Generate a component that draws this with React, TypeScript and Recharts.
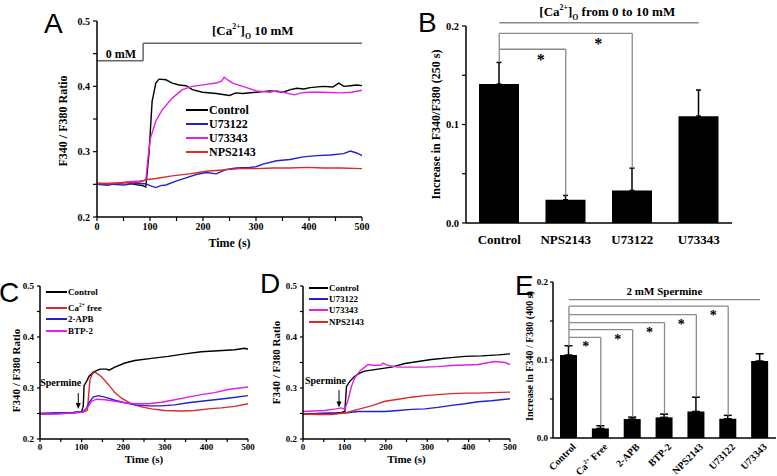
import React from 'react';
import { LineChart, Line, XAxis, YAxis, BarChart, Bar, ErrorBar, ReferenceLine, ReferenceDot, Legend, Label } from 'recharts';

const SERIF = "'Liberation Serif', 'Times New Roman', Times, serif";
const SANS = "'Liberation Sans', Arial, sans-serif";
const INK = '#000000';
const BLUE = '#2121cf';
const MAGENTA = '#e41fe4';
const RED = '#d92b2b';
const GREY = '#8a8a8a';

type Pt = [number, number];

// panel A: [Ca2+]o step 0 -> 10 mM  ([time s, F340/F380])
const aControl: Pt[] = [[0, 0.25], [20, 0.249], [40, 0.251], [55, 0.253], [70, 0.25], [86, 0.248], [92, 0.246], [98, 0.296], [104, 0.377], [111, 0.405], [117, 0.411], [130, 0.41], [142, 0.405], [155, 0.402], [168, 0.401], [180, 0.395], [199, 0.391], [225, 0.389], [250, 0.386], [262, 0.39], [275, 0.389], [301, 0.391], [326, 0.393], [340, 0.392], [351, 0.391], [365, 0.395], [377, 0.397], [390, 0.396], [402, 0.398], [427, 0.4], [445, 0.399], [456, 0.405], [466, 0.4], [478, 0.401], [490, 0.402], [500, 0.401]];
const aU73122: Pt[] = [[0, 0.25], [30, 0.25], [50, 0.249], [70, 0.251], [92, 0.251], [100, 0.248], [111, 0.245], [120, 0.248], [130, 0.249], [149, 0.255], [168, 0.26], [187, 0.265], [206, 0.268], [225, 0.266], [244, 0.273], [263, 0.275], [288, 0.276], [300, 0.277], [313, 0.281], [339, 0.286], [364, 0.288], [389, 0.292], [415, 0.294], [440, 0.295], [465, 0.297], [478, 0.301], [490, 0.298], [500, 0.294]];
const aU73343: Pt[] = [[0, 0.252], [20, 0.251], [40, 0.252], [60, 0.254], [80, 0.255], [92, 0.256], [97, 0.296], [101, 0.321], [111, 0.347], [123, 0.364], [142, 0.382], [161, 0.395], [180, 0.4], [206, 0.403], [225, 0.405], [235, 0.408], [240, 0.414], [248, 0.409], [256, 0.405], [275, 0.4], [301, 0.393], [326, 0.391], [340, 0.393], [351, 0.391], [373, 0.387], [385, 0.39], [402, 0.391], [427, 0.391], [459, 0.39], [480, 0.391], [500, 0.394]];
const aNPS2143: Pt[] = [[0, 0.251], [40, 0.252], [80, 0.253], [92, 0.257], [111, 0.259], [142, 0.263], [174, 0.266], [206, 0.27], [237, 0.272], [269, 0.274], [301, 0.274], [332, 0.275], [364, 0.275], [396, 0.276], [427, 0.275], [459, 0.275], [500, 0.274]];

// panel C: spermine, store-operated entry blockers
const cControl: Pt[] = [[0, 0.249], [40, 0.25], [80, 0.251], [92, 0.253], [100, 0.254], [104, 0.264], [106, 0.305], [112, 0.313], [118, 0.323], [128, 0.331], [144, 0.337], [160, 0.337], [166, 0.335], [180, 0.341], [204, 0.349], [228, 0.354], [268, 0.358], [308, 0.362], [348, 0.367], [388, 0.371], [428, 0.373], [468, 0.375], [492, 0.378], [500, 0.376]];
const cCaFree: Pt[] = [[0, 0.25], [40, 0.251], [80, 0.252], [108, 0.254], [114, 0.257], [120, 0.316], [126, 0.328], [132, 0.331], [148, 0.322], [164, 0.307], [180, 0.291], [196, 0.28], [220, 0.269], [244, 0.263], [268, 0.259], [300, 0.256], [340, 0.255], [372, 0.256], [404, 0.259], [436, 0.261], [468, 0.264], [500, 0.269]];
const c2APB: Pt[] = [[0, 0.25], [40, 0.251], [80, 0.252], [104, 0.254], [112, 0.261], [120, 0.274], [128, 0.282], [140, 0.285], [156, 0.282], [180, 0.276], [204, 0.271], [228, 0.267], [260, 0.265], [292, 0.265], [324, 0.267], [356, 0.271], [388, 0.274], [420, 0.277], [452, 0.28], [500, 0.285]];
const cBTP2: Pt[] = [[0, 0.249], [40, 0.249], [80, 0.251], [104, 0.253], [116, 0.264], [124, 0.274], [136, 0.278], [156, 0.277], [180, 0.274], [204, 0.271], [228, 0.269], [260, 0.269], [292, 0.272], [324, 0.277], [356, 0.282], [388, 0.287], [420, 0.291], [452, 0.297], [500, 0.302]];

// panel D: spermine, PLC / CaSR inhibitors
const dControl: Pt[] = [[0, 0.249], [40, 0.25], [80, 0.251], [93, 0.252], [101, 0.254], [105, 0.303], [113, 0.313], [125, 0.323], [137, 0.329], [149, 0.333], [181, 0.337], [214, 0.341], [246, 0.348], [278, 0.352], [310, 0.356], [351, 0.359], [391, 0.362], [431, 0.363], [472, 0.365], [500, 0.367]];
const dU73122: Pt[] = [[0, 0.249], [52, 0.25], [101, 0.251], [133, 0.254], [165, 0.254], [198, 0.254], [230, 0.256], [262, 0.258], [294, 0.259], [326, 0.262], [359, 0.266], [391, 0.269], [423, 0.273], [455, 0.275], [500, 0.279]];
const dU73343: Pt[] = [[0, 0.254], [52, 0.256], [80, 0.259], [93, 0.261], [101, 0.258], [109, 0.277], [117, 0.303], [125, 0.32], [137, 0.333], [149, 0.341], [157, 0.346], [173, 0.344], [189, 0.345], [193, 0.349], [206, 0.344], [230, 0.341], [262, 0.341], [294, 0.341], [326, 0.342], [359, 0.344], [391, 0.345], [423, 0.346], [463, 0.352], [488, 0.35], [500, 0.346]];
const dNPS2143: Pt[] = [[0, 0.249], [36, 0.248], [69, 0.248], [101, 0.251], [133, 0.258], [165, 0.265], [198, 0.274], [230, 0.278], [262, 0.282], [294, 0.285], [326, 0.287], [359, 0.289], [391, 0.29], [423, 0.29], [455, 0.291], [500, 0.292]];

const timeTicks = [0, 50, 100, 150, 200, 250, 300, 350, 400, 450, 500];
const ratioTicks = [0.2, 0.25, 0.3, 0.35, 0.4, 0.45, 0.5];
const incTicks = [0, 0.05, 0.1, 0.15, 0.2];

// panel B: increase at 250 s
const bGroups = ['Control', 'NPS2143', 'U73122', 'U73343'];
const bMeans = [0.141, 0.0236, 0.033, 0.1085];
const bSems = [0.022, 0.0044, 0.0227, 0.0265];

// panel E: increase at 400 s
const eGroups = ['Control', 'Ca2+ Free', '2-APB', 'BTP-2', 'NPS2143', 'U73122', 'U73343'];
const eMeans = [0.1064, 0.0123, 0.0243, 0.0264, 0.034, 0.0247, 0.0987];
const eSems = [0.0119, 0.0034, 0.0025, 0.0042, 0.0183, 0.0043, 0.0093];

const aSeries = [
  { name: 'Control', color: INK, pts: aControl },
  { name: 'U73122', color: BLUE, pts: aU73122 },
  { name: 'U73343', color: MAGENTA, pts: aU73343 },
  { name: 'NPS2143', color: RED, pts: aNPS2143 },
];
const cSeries = [
  { name: 'Control', color: INK, pts: cControl },
  { name: 'Ca2+ free', color: RED, pts: cCaFree },
  { name: '2-APB', color: BLUE, pts: c2APB },
  { name: 'BTP-2', color: MAGENTA, pts: cBTP2 },
];
const dSeries = [
  { name: 'Control', color: INK, pts: dControl },
  { name: 'U73122', color: BLUE, pts: dU73122 },
  { name: 'U73343', color: MAGENTA, pts: dU73343 },
  { name: 'NPS2143', color: RED, pts: dNPS2143 },
];

const toRows = (pts: Pt[]) => pts.map(([t, v]) => ({ t, v }));
const fmtTime = (v: number) => (v % 100 === 0 ? String(v) : '');
const fmtTenth = (v: number) => (Math.round(v * 100) % 10 === 0 ? v.toFixed(1) : '');

const axisLine = { stroke: INK, strokeWidth: 1.5 };
const tickLine = { stroke: INK, strokeWidth: 1.2 };
const tickFont = (size: number) => ({ fontFamily: SERIF, fontWeight: 'bold', fontSize: size, fill: INK });

// Ca2+ with superscript, optional subscript o
const caText = (sup: number, sub: boolean) => (
  <>
    {sub ? '[' : ''}Ca<tspan dy={-sup * 0.45} fontSize={sup * 0.6}>2+</tspan>
    <tspan dy={sup * 0.45}>{sub ? ']' : ''}</tspan>
    {sub ? <tspan dy={sup * 0.3} fontSize={sup * 0.6}>O</tspan> : null}
    {sub ? <tspan dy={-sup * 0.3}> </tspan> : null}
  </>
);

function yTitle(text: React.ReactNode, dx: number, size: number, dy = 0) {
  return (p: any) => {
    const vb = p.viewBox || {};
    const x = vb.x + dx;
    const y = vb.y + vb.height / 2 + dy;
    return (
      <text x={x} y={y} transform={`rotate(-90 ${x} ${y})`} textAnchor="middle" fontFamily={SERIF} fontWeight="bold" fontSize={size} fill={INK}>
        {text}
      </text>
    );
  };
}

function xTitle(text: string, dy: number, size: number) {
  return (p: any) => {
    const vb = p.viewBox || {};
    return (
      <text x={vb.x + vb.width / 2} y={vb.y + dy} textAnchor="middle" fontFamily={SERIF} fontWeight="bold" fontSize={size} fill={INK}>
        {text}
      </text>
    );
  };
}

const note = (node: React.ReactNode, size: number, dx = 0, dy = 0, anchor: 'start' | 'middle' | 'end' = 'middle', fill = INK) => (p: any) => (
  <text x={p.cx + dx} y={p.cy + dy} textAnchor={anchor} fontFamily={SERIF} fontWeight="bold" fontSize={size} fill={fill}>
    {node}
  </text>
);

const arrowHead = (p: any) => <path d={`M${p.cx - 2.5},${p.cy - 6}L${p.cx + 2.5},${p.cy - 6}L${p.cx},${p.cy}Z`} fill={INK} />;

function legendBox(items: { name: string; color: string }[], size: number, line: number, row: number, caGap = 0) {
  return () => (
    <div style={{ fontFamily: SERIF, fontWeight: 'bold', fontSize: size, color: INK, textAlign: 'left' }}>
      {items.map((it, i) => (
        <div key={it.name} style={{ display: 'flex', alignItems: 'center', height: row, marginTop: i === 1 ? caGap : 0, whiteSpace: 'nowrap' }}>
          <span style={{ display: 'inline-block', width: line, height: 2, background: it.color, marginRight: 1 }} />
          {it.name === 'Ca2+ free' ? (
            <span>
              Ca<sup style={{ fontSize: size * 0.6 }}>2+</sup> free
            </span>
          ) : (
            <span>{it.name}</span>
          )}
        </div>
      ))}
    </div>
  );
}

function ETick(p: any) {
  const { x, y, payload } = p;
  const v = payload.value as string;
  return (
    <g transform={`translate(${x + 5},${y + 2}) rotate(-45)`}>
      <text textAnchor="end" dy="0.35em" fontFamily={SERIF} fontWeight="bold" fontSize={10} fill={INK}>
        {v === 'Ca2+ Free' ? (
          <>
            Ca<tspan dy={-4} fontSize={6}>2+</tspan>
            <tspan dy={4}> Free</tspan>
          </>
        ) : (
          v
        )}
      </text>
    </g>
  );
}

function TraceChart(props: {
  series: { name: string; color: string; pts: Pt[] }[];
  width: number;
  height: number;
  margin: { top: number; right: number; bottom: number; left: number };
  yWidth: number;
  xHeight: number;
  tickSize: number;
  tickPx: number;
  titlePx: number;
  yTitleDx: number;
  yTitleDy: number;
  xTitleDy: number;
  legend: React.ReactNode;
  children?: React.ReactNode;
}) {
  const p = props;
  return (
    <LineChart width={p.width} height={p.height} margin={p.margin}>
      <XAxis type="number" dataKey="t" domain={[0, 500]} ticks={timeTicks} tickFormatter={fmtTime} height={p.xHeight} axisLine={axisLine} tickLine={tickLine} tickSize={p.tickSize} tickMargin={2} tick={tickFont(p.tickPx)} interval={0} allowDataOverflow>
        <Label content={xTitle('Time (s)', p.xTitleDy, p.titlePx)} />
      </XAxis>
      <YAxis type="number" domain={[0.2, 0.5]} ticks={ratioTicks} tickFormatter={fmtTenth} width={p.yWidth} axisLine={axisLine} tickLine={tickLine} tickSize={p.tickSize} tickMargin={3} tick={tickFont(p.tickPx)} interval={0} allowDataOverflow>
        <Label content={yTitle('F340 / F380 Ratio', p.yTitleDx, p.titlePx, p.yTitleDy)} />
      </YAxis>
      {p.series.map((s) => (
        <Line key={s.name} data={toRows(s.pts)} dataKey="v" name={s.name} stroke={s.color} strokeWidth={1.4} dot={false} type="linear" isAnimationActive={false} />
      ))}
      {p.children}
      {p.legend}
    </LineChart>
  );
}

const grey = { stroke: GREY, strokeWidth: 1.3, ifOverflow: 'visible' as const };

export default function App() {
  const bRows = bGroups.map((g, i) => ({ g, mean: bMeans[i], sem: [0, bSems[i]] }));
  const eRows = eGroups.map((g, i) => ({ g, mean: eMeans[i], sem: [0, eSems[i]] }));
  const eLevels = [0.129, 0.139, 0.148, 0.1583, 0.169];
  const bLevels = [0.1764, 0.1926];

  return (
    <div style={{ position: 'absolute', left: 0, top: 0, width: 777, height: 476, background: '#fff', overflow: 'hidden' }}>
      {/* A */}
      <div style={{ position: 'absolute', left: 0, top: 0 }}>
        <TraceChart
          series={aSeries}
          width={380}
          height={255}
          margin={{ top: 21, right: 18, bottom: 0, left: 37 }}
          yWidth={60}
          xHeight={38}
          tickSize={4}
          tickPx={10}
          titlePx={12}
          yTitleDx={30}
          yTitleDy={2}
          xTitleDy={30}
          legend={<Legend layout="vertical" align="center" verticalAlign="middle" wrapperStyle={{ left: 186, top: 103, width: 'auto' }} content={legendBox(aSeries, 12, 22, 14)} />}
        >
          <ReferenceLine segment={[{ x: 0, y: 0.439 }, { x: 87, y: 0.439 }]} {...grey} stroke="#666" strokeWidth={1.5} />
          <ReferenceLine segment={[{ x: 87, y: 0.439 }, { x: 87, y: 0.466 }]} {...grey} stroke="#666" strokeWidth={1.5} />
          <ReferenceLine segment={[{ x: 87, y: 0.466 }, { x: 500, y: 0.466 }]} {...grey} stroke="#666" strokeWidth={1.5} />
          <ReferenceDot x={45} y={0.439} ifOverflow="visible" shape={note('0 mM', 12, 0, -3)} />
          <ReferenceDot x={294} y={0.466} ifOverflow="visible" shape={note(<>{caText(13, true)}10 mM</>, 13, 0, -8)} />
        </TraceChart>
      </div>

      {/* B */}
      <div style={{ position: 'absolute', left: 400, top: 0 }}>
        <BarChart width={345} height={250} data={bRows} margin={{ top: 26, right: 13, bottom: 0, left: 0 }}>
          <XAxis dataKey="g" height={27} axisLine={axisLine} tickLine={false} tickSize={6} tickMargin={6} tick={tickFont(13)} interval={0} />
          <YAxis type="number" domain={[0, 0.2]} ticks={incTicks} tickFormatter={fmtTenth} width={66} axisLine={axisLine} tickLine={tickLine} tickSize={4} tickMargin={3} tick={tickFont(10.5)} interval={0} allowDataOverflow>
            <Label content={yTitle('Increase in F340/F380 (250 s)', 40, 12)} />
          </YAxis>
          <Bar dataKey="mean" fill={INK} barSize={40} isAnimationActive={false}>
            <ErrorBar dataKey="sem" width={2.5} stroke={INK} strokeWidth={1.5} direction="y" />
          </Bar>
          <ReferenceLine segment={[{ x: bGroups[0], y: 0.2033 }, { x: bGroups[3], y: 0.2033 }]} {...grey} />
          <ReferenceLine segment={[{ x: bGroups[0], y: bMeans[0] + bSems[0] }, { x: bGroups[0], y: bLevels[1] }]} {...grey} />
          <ReferenceLine segment={[{ x: bGroups[0], y: bLevels[0] }, { x: bGroups[1], y: bLevels[0] }]} {...grey} />
          <ReferenceLine segment={[{ x: bGroups[1], y: bLevels[0] }, { x: bGroups[1], y: bMeans[1] + bSems[1] }]} {...grey} />
          <ReferenceLine segment={[{ x: bGroups[0], y: bLevels[1] }, { x: bGroups[2], y: bLevels[1] }]} {...grey} />
          <ReferenceLine segment={[{ x: bGroups[2], y: bLevels[1] }, { x: bGroups[2], y: bMeans[2] + bSems[2] }]} {...grey} />
          <ReferenceDot x={bGroups[1]} y={bLevels[0]} ifOverflow="visible" shape={note('*', 16, -25, 15.5)} />
          <ReferenceDot x={bGroups[2]} y={bLevels[1]} ifOverflow="visible" shape={note('*', 16, -34, 16)} />
          <ReferenceDot x={bGroups[2]} y={0.21} ifOverflow="visible" shape={note(<>{caText(13, true)}from 0 to 10 mM</>, 13, -25, 0)} />
        </BarChart>
      </div>

      {/* C */}
      <div style={{ position: 'absolute', left: 0, top: 270 }}>
        <TraceChart
          series={cSeries}
          width={262}
          height={206}
          margin={{ top: 16, right: 14, bottom: 0, left: 0 }}
          yWidth={40}
          xHeight={37}
          tickSize={3}
          tickPx={9}
          titlePx={11}
          yTitleDx={20}
          yTitleDy={8}
          xTitleDy={24}
          legend={<Legend layout="vertical" align="center" verticalAlign="middle" wrapperStyle={{ left: 46, top: 16, width: 'auto' }} content={legendBox(cSeries, 9, 21, 11.5, 4.5)} />}
        >
          <ReferenceLine segment={[{ x: 92, y: 0.29 }, { x: 92, y: 0.264 }]} stroke={INK} strokeWidth={1} ifOverflow="visible" />
          <ReferenceDot x={92} y={0.259} ifOverflow="visible" shape={arrowHead} />
          <ReferenceDot x={92} y={0.31} ifOverflow="visible" shape={note('Spermine', 10, 3, 3.5, 'end')} />
        </TraceChart>
      </div>

      {/* D */}
      <div style={{ position: 'absolute', left: 262, top: 270 }}>
        <TraceChart
          series={dSeries}
          width={262}
          height={206}
          margin={{ top: 16, right: 14, bottom: 0, left: 0 }}
          yWidth={41}
          xHeight={37}
          tickSize={3}
          tickPx={9}
          titlePx={11}
          yTitleDx={18}
          yTitleDy={0}
          xTitleDy={24}
          legend={<Legend layout="vertical" align="center" verticalAlign="middle" wrapperStyle={{ left: 47, top: 12, width: 'auto' }} content={legendBox(dSeries, 9, 19, 11.3)} />}
        >
          <ReferenceLine segment={[{ x: 87, y: 0.296 }, { x: 87, y: 0.266 }]} stroke={INK} strokeWidth={1} ifOverflow="visible" />
          <ReferenceDot x={87} y={0.262} ifOverflow="visible" shape={arrowHead} />
          <ReferenceDot x={87} y={0.314} ifOverflow="visible" shape={note('Spermine', 10, 7, 3.5, 'end')} />
        </TraceChart>
      </div>

      {/* E */}
      <div style={{ position: 'absolute', left: 520, top: 270 }}>
        <BarChart width={257} height={206} data={eRows} margin={{ top: 12, right: 1, bottom: 0, left: 0 }}>
          <XAxis dataKey="g" height={38} axisLine={axisLine} tickLine={false} tickSize={2} tickMargin={3} tick={<ETick />} interval={0} />
          <YAxis type="number" domain={[0, 0.2]} ticks={incTicks} tickFormatter={fmtTenth} width={33} axisLine={axisLine} tickLine={tickLine} tickSize={3} tickMargin={2} tick={tickFont(9)} interval={0} allowDataOverflow>
            <Label content={yTitle('Increase in F340 / F380 (400 s)', 13, 10, -4)} />
          </YAxis>
          <Bar dataKey="mean" fill={INK} barSize={17} isAnimationActive={false}>
            <ErrorBar dataKey="sem" width={4} stroke={INK} strokeWidth={1.5} direction="y" />
          </Bar>
          <ReferenceLine segment={[{ x: eGroups[0], y: 0.1774 }, { x: eGroups[6], y: 0.1774 }]} {...grey} />
          <ReferenceLine segment={[{ x: eGroups[0], y: eMeans[0] + eSems[0] }, { x: eGroups[0], y: eLevels[4] }]} {...grey} />
          {eLevels.map((lv, i) => (
            <ReferenceLine key={`h${i}`} segment={[{ x: eGroups[0], y: lv }, { x: eGroups[i + 1], y: lv }]} {...grey} />
          ))}
          {eLevels.map((lv, i) => (
            <ReferenceLine key={`v${i}`} segment={[{ x: eGroups[i + 1], y: lv }, { x: eGroups[i + 1], y: eMeans[i + 1] + eSems[i + 1] }]} {...grey} />
          ))}
          {eLevels.map((lv, i) => (
            <ReferenceDot key={`s${i}`} x={eGroups[i + 1]} y={lv} ifOverflow="visible" shape={note('*', 14, -15, 14)} />
          ))}
          <ReferenceDot x={eGroups[3]} y={0.1833} ifOverflow="visible" shape={note('2 mM Spermine', 11)} />
        </BarChart>
      </div>

      <svg width={777} height={476} style={{ position: 'absolute', left: 0, top: 0, pointerEvents: 'none' }}>
        <g fontFamily={SANS} fontSize={28} fill={INK}>
          <text x={44} y={33}>A</text>
          <text x={418} y={32}>B</text>
          <text x={-1} y={302}>C</text>
          <text x={260} y={293}>D</text>
          <text x={515} y={295}>E</text>
        </g>
      </svg>
    </div>
  );
}
